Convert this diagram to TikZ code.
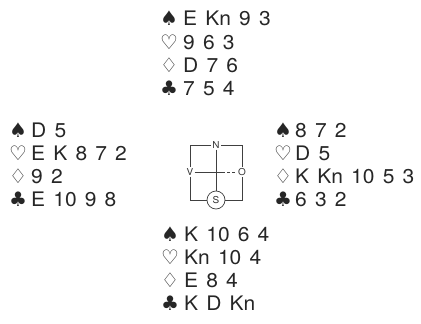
\documentclass[tikz,border=0pt]{standalone}
\usepackage{fontspec}
\newfontfamily\hf[WordSpace=1.4,FakeStretch=1.05]{TeX Gyre Heros}
\newfontfamily\symf{DejaVu Sans}
\begin{document}
\begin{tikzpicture}[x=1pt,y=-1pt,
  card/.style={anchor=base west,inner sep=0pt,font=\hf\fontsize{20}{20}\selectfont,text=black!85},
  suit/.style={anchor=base,inner sep=0pt,font=\symf\fontsize{20}{20}\selectfont,text=black!85},
  dir/.style={inner sep=1pt,font=\hf\fontsize{9.5}{9.5}\selectfont,text=black!80},
  frame/.style={line width=0.7pt,draw=black!75}]
\useasboundingbox[fill=white] (0,0) rectangle (421,324);
% North
\node[suit] (ns) at (169,26) {♠}; \node[card] (nst) at (183,26) {E Kn 9 3};
\node[suit] (nh) at (169,49) {♡}; \node[card] (nht) at (183,49) {9 6 3};
\node[suit] (nd) at (169,72) {♢}; \node[card] (ndt) at (183,72) {D 7 6};
\node[suit] (nc) at (169,95) {♣}; \node[card] (nct) at (183,95) {7 5 4};
% West
\node[suit] (ws) at (18,137) {♠}; \node[card] (wst) at (31,137) {D 5};
\node[suit] (wh) at (18,160) {♡}; \node[card] (wht) at (31,160) {E K 8 7 2};
\node[suit] (wd) at (18,183) {♢}; \node[card] (wdt) at (31,183) {9 2};
\node[suit] (wc) at (18,206) {♣}; \node[card] (wct) at (31,206) {E 10 9 8};
% East
\node[suit] (es) at (283,137) {♠}; \node[card] (est) at (295,137) {8 7 2};
\node[suit] (eh) at (283,160) {♡}; \node[card] (eht) at (295,160) {D 5};
\node[suit] (ed) at (283,183) {♢}; \node[card] (edt) at (295,183) {K Kn 10 5 3};
\node[suit] (ec) at (283,206) {♣}; \node[card] (ect) at (295,206) {6 3 2};
% South
\node[suit] (ss) at (170,241) {♠}; \node[card] (sst) at (184,241) {K 10 6 4};
\node[suit] (sh) at (170,264) {♡}; \node[card] (sht) at (184,264) {Kn 10 4};
\node[suit] (sd) at (170,287) {♢}; \node[card] (sdt) at (184,287) {E 8 4};
\node[suit] (sc) at (170,310) {♣}; \node[card] (sct) at (184,310) {K D Kn};
% compass
\coordinate (tl) at (190,145); \coordinate (tr) at (242,145);
\coordinate (bl) at (190,200); \coordinate (br) at (242,200);
\node[dir] (N) at (216,145) {N};
\node[dir] (V) at (190,172) {V};
\node[dir] (O) at (242,172) {O};
\node[dir,circle,draw=black!75,line width=0.7pt,inner sep=1.2pt,minimum size=18pt] (S) at (216,200) {S};
\coordinate (c) at (216,172);
\coordinate (cd) at (222,172);
\draw[frame] (N.west) -- (tl) -- (V.north);
\draw[frame] (V.south) -- (bl) -- (S.west);
\draw[frame] (S.east) -- (br) -- (O.south);
\draw[frame] (O.north) -- (tr) -- (N.east);
\draw[frame] (N.south) -- (S.north);
\draw[frame] (V.east) -- (cd);
\draw[frame,dash pattern=on 3pt off 2pt] (cd) -- (O.west);
\end{tikzpicture}
\end{document}
